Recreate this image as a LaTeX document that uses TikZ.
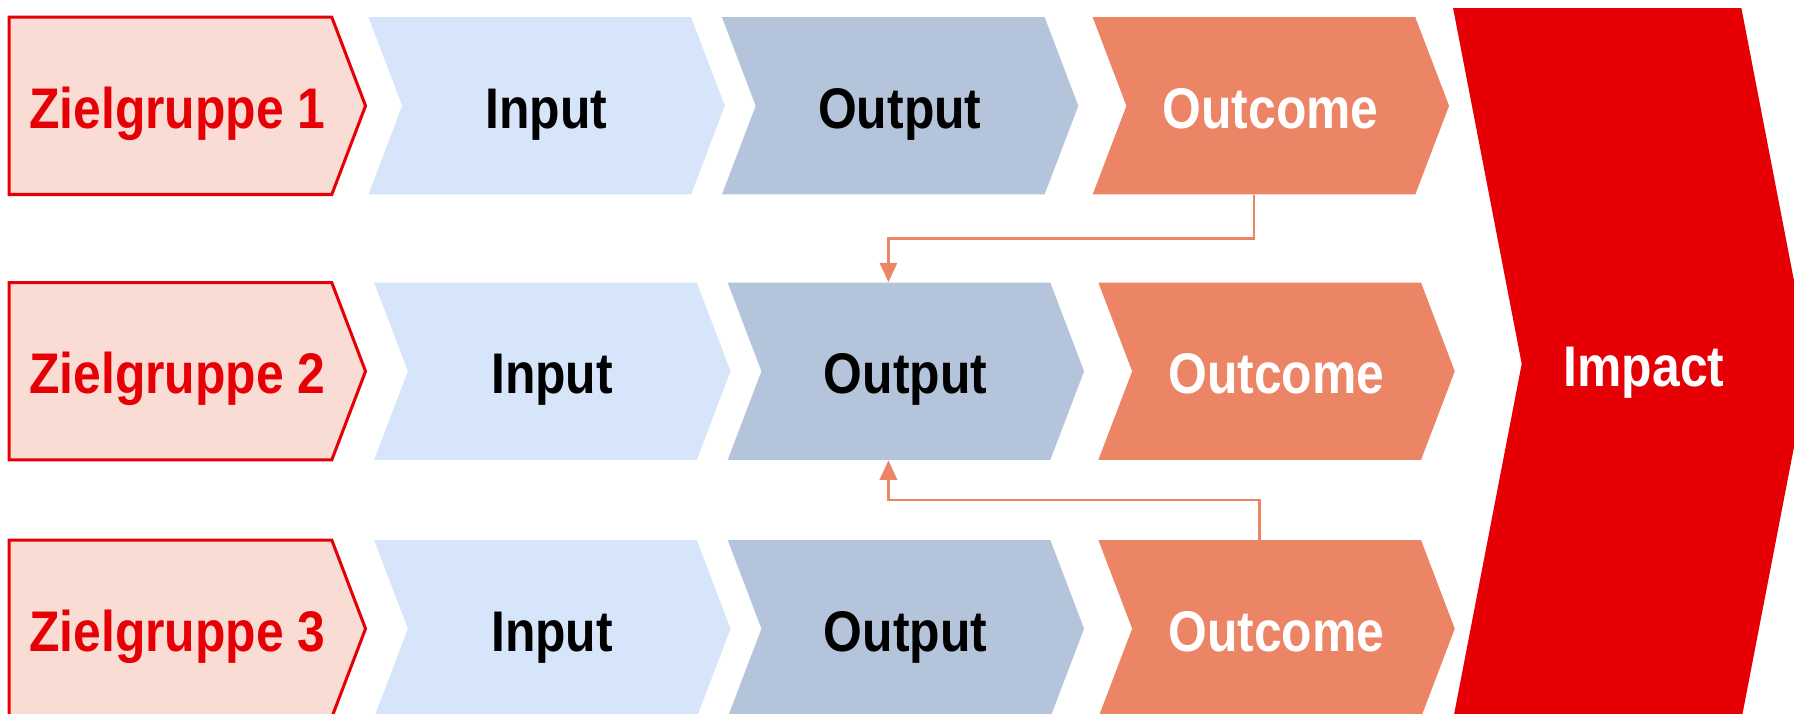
\documentclass[tikz,border=0pt]{standalone}
\usepackage{fontspec}
\setmainfont{Liberation Sans}[FakeStretch=0.87]
\usepackage{tikz}
\usetikzlibrary{calc,arrows.meta}
\definecolor{zgred}{HTML}{E60005}
\definecolor{zgfill}{HTML}{F9DCD3}
\definecolor{infill}{HTML}{D7E5FA}
\definecolor{outfill}{HTML}{B4C4DA}
\definecolor{ocfill}{HTML}{EC8466}

\begin{document}
\begin{tikzpicture}[x=0.02cm, y=-0.02cm,
    lbl/.style={font=\fontsize{28.5}{34}\selectfont\bfseries, inner sep=0pt,
      minimum width=5.64cm, minimum height=3.1cm, text height=22.6pt, text depth=0pt},
    zg/.style={fill=zgfill, draw=zgred, line width=1.5pt},
    inp/.style={fill=infill},
    outp/.style={fill=outfill},
    oc/.style={fill=ocfill},
    link/.style={draw=ocfill, line width=1.4pt, -{Triangle[width=0.3cm,length=0.34cm]}}]
      \useasboundingbox (0,0) rectangle (1568,624);

      % Zielgruppe 1
      \path[zg] (8,15) -- ++(282,0) -- ++(29.5,77.5) -- ++(-29.5,77.5) -- ++(-282,0) -- cycle;
      \node (zg1) at (155,92.5) [lbl, text=zgred] {Zielgruppe 1};
      \path[inp] (322,15) -- ++(282,0) -- ++(29.5,77.5) -- ++(-29.5,77.5) -- ++(-282,0) -- ++(29.5,-77.5) -- cycle;
      \node (in1) at (477.5,92.5) [lbl] {Input};
      \path[outp] (631,15) -- ++(282,0) -- ++(29.5,77.5) -- ++(-29.5,77.5) -- ++(-282,0) -- ++(29.5,-77.5) -- cycle;
      \node (op1) at (786.5,92.5) [lbl] {Output};
      \path[oc] (955,15) -- ++(282,0) -- ++(29.5,77.5) -- ++(-29.5,77.5) -- ++(-282,0) -- ++(29.5,-77.5) -- cycle;
      \node (oc1) at (1110.5,92.5) [lbl, text=white] {Outcome};

      % Zielgruppe 2
      \path[zg] (8,247) -- ++(282,0) -- ++(29.5,77.5) -- ++(-29.5,77.5) -- ++(-282,0) -- cycle;
      \node (zg2) at (155,324.5) [lbl, text=zgred] {Zielgruppe 2};
      \path[inp] (327,247) -- ++(282,0) -- ++(29.5,77.5) -- ++(-29.5,77.5) -- ++(-282,0) -- ++(29.5,-77.5) -- cycle;
      \node (in2) at (482.5,324.5) [lbl] {Input};
      \path[outp] (636,247) -- ++(282,0) -- ++(29.5,77.5) -- ++(-29.5,77.5) -- ++(-282,0) -- ++(29.5,-77.5) -- cycle;
      \node (op2) at (791.5,324.5) [lbl] {Output};
      \path[oc] (960,247) -- ++(282,0) -- ++(29.5,77.5) -- ++(-29.5,77.5) -- ++(-282,0) -- ++(29.5,-77.5) -- cycle;
      \node (oc2) at (1115.5,324.5) [lbl, text=white] {Outcome};

      % Zielgruppe 3
      \path[zg] (8,472) -- ++(282,0) -- ++(29.5,77.5) -- ++(-29.5,77.5) -- ++(-282,0) -- cycle;
      \node (zg3) at (155,549.5) [lbl, text=zgred] {Zielgruppe 3};
      \path[inp] (327,472) -- ++(282,0) -- ++(29.5,77.5) -- ++(-29.5,77.5) -- ++(-282,0) -- ++(29.5,-77.5) -- cycle;
      \node (in3) at (482.5,549.5) [lbl] {Input};
      \path[outp] (636,472) -- ++(282,0) -- ++(29.5,77.5) -- ++(-29.5,77.5) -- ++(-282,0) -- ++(29.5,-77.5) -- cycle;
      \node (op3) at (791.5,549.5) [lbl] {Output};
      \path[oc] (960,472) -- ++(282,0) -- ++(29.5,77.5) -- ++(-29.5,77.5) -- ++(-282,0) -- ++(29.5,-77.5) -- cycle;
      \node (oc3) at (1115.5,549.5) [lbl, text=white] {Outcome};

      % Impact
      \path[fill=zgred] (1270,7) -- (1522,7) -- (1582,318) -- (1522,629) -- (1270,629) -- (1330,318) -- cycle;
      \node (imp) at (1437,318) [lbl, text=white, minimum width=0pt] {Impact};

      % Rueckkopplung
      \coordinate (a1) at ($(oc1.south)+(-14.5,0)$);
      \coordinate (b1) at ($(op2.north)+(-15,0)$);
      \coordinate (a3) at ($(oc3.north)+(-15,0)$);
      \coordinate (b3) at ($(op2.south)+(-15,0)$);
      \draw[link] (a1) |- ($(a1)!.5!(b1)$) -| (b1);
      \draw[link] (a3) |- ($(a3)!.5!(b3)$) -| (b3);

\end{tikzpicture}
\end{document}
